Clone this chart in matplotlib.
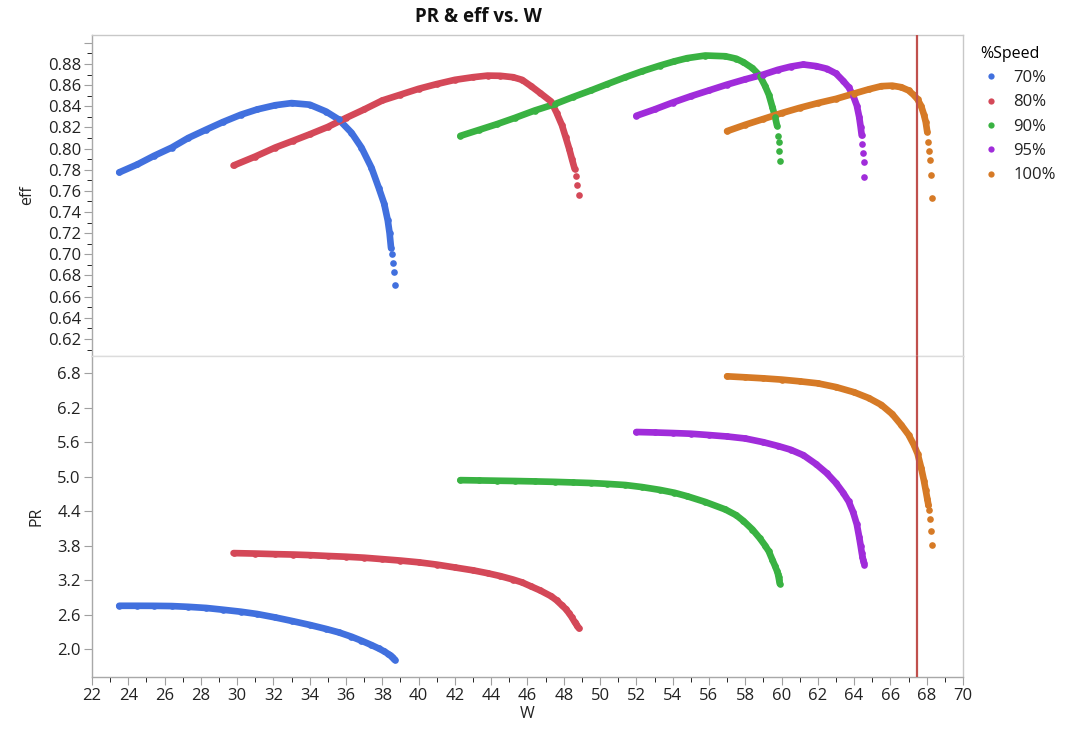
import numpy as np
import matplotlib.pyplot as plt
from matplotlib.ticker import MultipleLocator, FixedLocator, FuncFormatter

plt.rcParams['font.family'] = ['Open Sans', 'DejaVu Sans']

# --- data: W, eff, PR per speed line ---
speeds = ["70%", "80%", "90%", "95%", "100%"]
colors = ["#4170DE", "#D44858", "#39B242", "#A02CDA", "#D67A26"]

w_70 = [23.5, 24.5, 25.4, 26.4, 27.3, 28.3, 29.2, 30.2, 31.1, 32.1, 33.0, 34.0, 34.9,
        35.6, 36.3, 36.85, 37.4, 37.8, 38.1, 38.3, 38.4, 38.48, 38.53, 38.59, 38.63, 38.7]
eff_70 = [0.7775, 0.785, 0.793, 0.801, 0.810, 0.818, 0.825, 0.832, 0.837, 0.841, 0.843, 0.8415, 0.835,
          0.8275, 0.815, 0.801, 0.782, 0.763, 0.748, 0.732, 0.720, 0.706, 0.700, 0.692, 0.683, 0.671]
pr_70 = [2.753, 2.753, 2.752, 2.748, 2.735, 2.715, 2.685, 2.65, 2.61, 2.55, 2.49, 2.42, 2.35,
         2.29, 2.215, 2.145, 2.07, 2.01, 1.96, 1.92, 1.90, 1.88, 1.865, 1.85, 1.83, 1.81]

w_80 = [29.8, 31.0, 32.1, 33.1, 34.0, 35.0, 36.0, 37.0, 38.0, 39.0, 40.0, 41.0, 42.0, 43.0,
        43.8, 44.5, 45.2, 45.7, 46.2, 46.7, 47.3, 47.6, 47.9, 48.1, 48.3, 48.45, 48.6, 48.69, 48.75, 48.84]
eff_80 = [0.784, 0.7925, 0.801, 0.8075, 0.8135, 0.8205, 0.829, 0.837, 0.8455, 0.851, 0.8565, 0.861,
          0.865, 0.8675, 0.869, 0.8688, 0.8675, 0.865, 0.859, 0.8525, 0.8445, 0.834, 0.822, 0.811,
          0.7997, 0.790, 0.7808, 0.774, 0.766, 0.7565]
pr_80 = [3.67, 3.662, 3.652, 3.645, 3.635, 3.62, 3.607, 3.59, 3.565, 3.54, 3.51, 3.47, 3.42, 3.37,
         3.32, 3.27, 3.21, 3.16, 3.09, 3.02, 2.92, 2.85, 2.76, 2.70, 2.62, 2.55, 2.47, 2.43, 2.40, 2.36]

w_90 = [42.3, 43.3, 44.3, 45.3, 46.4, 47.5, 48.5, 49.5, 50.4, 51.4, 52.3, 53.3, 54.1, 54.8, 55.8,
        56.9, 57.5, 57.9, 58.4, 58.8, 59.1, 59.3, 59.5, 59.65, 59.75, 59.8, 59.84, 59.87, 59.9]
eff_90 = [0.812, 0.8175, 0.823, 0.829, 0.836, 0.842, 0.8487, 0.855, 0.861, 0.8675, 0.873, 0.8785,
          0.8825, 0.8855, 0.888, 0.8873, 0.885, 0.8817, 0.876, 0.869, 0.859, 0.851, 0.839, 0.8297,
          0.8218, 0.8123, 0.806, 0.7981, 0.7883]
pr_90 = [4.94, 4.935, 4.93, 4.925, 4.918, 4.91, 4.90, 4.89, 4.875, 4.855, 4.82, 4.77, 4.72, 4.66,
         4.56, 4.43, 4.33, 4.23, 4.08, 3.93, 3.80, 3.70, 3.55, 3.44, 3.36, 3.31, 3.25, 3.20, 3.14]

w_95 = [52.0, 53.0, 54.0, 55.0, 56.0, 57.0, 58.0, 59.0, 59.8, 60.5, 61.2, 61.9, 62.5, 63.0, 63.4,
        63.7, 63.95, 64.15, 64.28, 64.36, 64.42, 64.46, 64.5, 64.53, 64.57]
eff_95 = [0.831, 0.837, 0.8435, 0.8495, 0.855, 0.8605, 0.8655, 0.870, 0.8745, 0.8775, 0.8795, 0.878,
          0.8755, 0.871, 0.864, 0.858, 0.850, 0.8407, 0.830, 0.8205, 0.8125, 0.804, 0.7955, 0.787, 0.773]
pr_95 = [5.778, 5.77, 5.76, 5.748, 5.725, 5.70, 5.665, 5.60, 5.535, 5.47, 5.375, 5.22, 5.06, 4.89,
         4.72, 4.57, 4.38, 4.17, 3.95, 3.80, 3.68, 3.61, 3.55, 3.50, 3.46]

w_100 = [57.0, 58.0, 59.0, 60.0, 61.0, 62.0, 63.0, 64.0, 64.8, 65.5, 66.1, 66.6, 67.0, 67.3, 67.5,
         67.7, 67.85, 67.95, 68.03, 68.1, 68.15, 68.2, 68.25, 68.3]
eff_100 = [0.8165, 0.8225, 0.828, 0.8335, 0.8385, 0.843, 0.847, 0.852, 0.856, 0.859, 0.8595, 0.858,
           0.855, 0.8505, 0.8465, 0.840, 0.832, 0.825, 0.816, 0.806, 0.798, 0.789, 0.7746, 0.753]
pr_100 = [6.747, 6.73, 6.712, 6.69, 6.66, 6.625, 6.56, 6.47, 6.37, 6.25, 6.09, 5.90, 5.73, 5.55, 5.40,
          5.15, 4.93, 4.76, 4.62, 4.50, 4.42, 4.26, 4.06, 3.81]

w_limit = 67.45

series = [(w_70, eff_70, pr_70), (w_80, eff_80, pr_80), (w_90, eff_90, pr_90),
          (w_95, eff_95, pr_95), (w_100, eff_100, pr_100)]
# how many trailing points show as loose dots in each panel
loose_eff = [4, 3, 4, 4, 5]
loose_pr = [0, 0, 0, 1, 4]

fig = plt.figure(figsize=(10.65, 7.32), dpi=100)
ax_eff = fig.add_axes([0.0864, 0.5137, 0.8178, 0.4385])
ax_pr = fig.add_axes([0.0864, 0.0751, 0.8178, 0.4385], sharex=ax_eff)


def draw(ax, x, y, c, n_loose):
    n = len(x) - n_loose
    ax.plot(x[:n], y[:n], color=c, lw=4.8, solid_capstyle='round',
            solid_joinstyle='round', zorder=2)
    ax.scatter(x, y, s=23, color=c, linewidths=0, zorder=3)


for (w, e, p), c, le, lp in zip(series, colors, loose_eff, loose_pr):
    draw(ax_eff, w, e, c, le)
    draw(ax_pr, w, p, c, lp)

for ax in (ax_eff, ax_pr):
    ax.axvline(w_limit, color="#C0504D", lw=1.6, zorder=4)
    for s in ax.spines.values():
        s.set_color("#c8c8c8")
        s.set_linewidth(1.0)
    ax.spines['left'].set_color("#a8a8a8")
    ax.tick_params(axis='both', colors="#a0a0a0", labelcolor="#222222",
                   labelsize=12, direction='out', pad=2)
    ax.tick_params(which='major', length=6)
    ax.tick_params(which='minor', length=3.5)

ax_eff.spines['bottom'].set_color("#dcdcdc")
ax_pr.spines['top'].set_color("#dcdcdc")
ax_pr.spines['bottom'].set_color("#a8a8a8")

ax_eff.set_xlim(22, 70)
ax_eff.xaxis.set_major_locator(MultipleLocator(2))
ax_eff.xaxis.set_minor_locator(MultipleLocator(1))
ax_eff.tick_params(axis='x', which='both', bottom=False, labelbottom=False)

ax_eff.set_ylim(0.6039, 0.9074)
ax_eff.yaxis.set_major_locator(FixedLocator(np.round(np.arange(0.62, 0.905, 0.02), 2)))
ax_eff.yaxis.set_minor_locator(FixedLocator(np.round(np.arange(0.61, 0.905, 0.02), 2)))
ax_eff.yaxis.set_major_formatter(FuncFormatter(lambda v, pos: "" if v > 0.89 else f"{v:.2f}"))

ax_pr.set_ylim(1.513, 7.1)
ax_pr.yaxis.set_major_locator(FixedLocator(np.round(np.arange(2.0, 6.85, 0.6), 1)))
ax_pr.yaxis.set_major_formatter(FuncFormatter(lambda v, pos: f"{v:.1f}"))

ax_eff.set_ylabel("eff", fontsize=11.5, color="#222222", labelpad=9)
ax_pr.set_ylabel("PR", fontsize=11.5, color="#222222", labelpad=9)
ax_pr.set_xlabel("W", fontsize=11.5, color="#222222", labelpad=1)

fig.text(0.449, 0.977, "PR & eff vs. W", ha='center', va='center',
         fontsize=13.5, fontweight='bold', color="#111111")

# legend
handles = [plt.Line2D([], [], ls='', marker='o', ms=4.5, color=c, mew=0) for c in colors]
leg = fig.legend(handles, speeds, title="%Speed", loc='upper left',
                 bbox_to_anchor=(0.906, 0.958), frameon=False, fontsize=12,
                 title_fontsize=11.5, handletextpad=0.7, labelspacing=0.5,
                 handlelength=1.3, alignment='left')
for t in leg.get_texts():
    t.set_color("#222222")

fig.savefig("out.png", dpi=100)
